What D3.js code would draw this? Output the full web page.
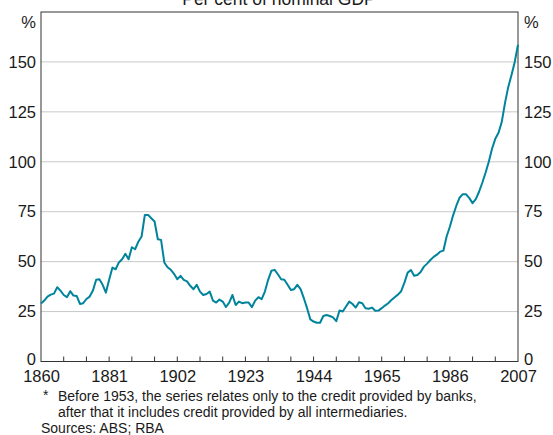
<!DOCTYPE html>
<html>
<head>
<meta charset="utf-8">
<script src="https://cdn.jsdelivr.net/npm/d3@7"></script>
<style>
  html, body { margin: 0; padding: 0; background: #fff; }
  svg { display: block; font-family: "Liberation Sans", Arial, sans-serif; }
</style>
</head>
<body>
<svg id="chart" width="553" height="435"></svg>
<script>
const title = "Per cent of nominal GDP";
const startYear = 1860;
const values = [
  29, 30.5, 32.5, 33.5, 34, 37.2, 35.5, 33.3, 32.2, 35.2,
  33, 32.8, 28.8, 29.2, 31.3, 32.5, 35.5, 40.9, 41.2, 38.4,
  34.5, 40.9, 47, 46.2, 49.6, 51.2, 53.9, 51.2, 57.2, 56.2,
  60, 62.6, 73.4, 73.4, 71.7, 70.1, 61.2, 60.9, 49.6, 47.2,
  45.9, 43.9, 41.2, 42.9, 40.9, 40.1, 37.9, 36.2, 38.4, 35,
  33.3, 33.8, 35, 30.5, 29.5, 31, 30, 27.3, 29.5, 33.3,
  28.3, 30, 29.2, 29.5, 29.5, 27.2, 30.5, 32.2, 31.2, 35,
  40.9, 45.4, 45.9, 43.7, 41.2, 40.9, 38.4, 35.8, 36.2, 38.4,
  36.2, 31.7, 26.7, 21.1, 20, 19.4, 19.4, 22.8, 23.3, 22.8,
  22.1, 20.2, 25.5, 25, 27.5, 30, 28.8, 27, 29.7, 29.2,
  26.7, 26.4, 27, 25.4, 25.5, 26.7, 28, 29.2, 30.8, 32.2,
  33.5, 35.2, 39.5, 44.5, 45.8, 42.9, 43.3, 44.8, 47.5, 49,
  50.8, 52.4, 53.5, 55, 55.5, 62.6, 67.5, 73.2, 78, 82,
  83.8, 83.7, 81.8, 79.3, 81.3, 85, 89.5, 94.5, 100, 106.5,
  111.5, 114.5, 120, 129.5, 137.5, 143.5, 150, 158.6
];
const years = values.map((v, i) => startYear + i);
const xTickLabels = [1860, 1881, 1902, 1923, 1944, 1965, 1986, 2007];
const yTickLabels = [0, 25, 50, 75, 100, 125, 150];
const footnotes = [
  "Before 1953, the series relates only to the credit provided by banks,",
  "after that it includes credit provided by all intermediaries."
];
const sources = "Sources: ABS; RBA";

const svg = d3.select("#chart");
const L = 41, R = 518, T = 12, B = 361.5;
const x = d3.scaleLinear().domain([1860, 2007]).range([L, R]);
const y = d3.scaleLinear().domain([0, 175]).range([B, T]);
const textColor = "#1a1a1a";
const fs = 16.5;
const ff = "Liberation Sans, Arial, sans-serif";

// title (clipped at top)
svg.append("text").attr("x", 279).attr("y", 5).attr("text-anchor", "middle")
  .attr("font-size", 17.5).attr("fill", textColor).text(title);

// gridlines
svg.append("g").selectAll("line").data(yTickLabels.filter(d => d > 0)).join("line")
  .attr("x1", L).attr("x2", R).attr("y1", d => y(d)).attr("y2", d => y(d))
  .attr("stroke", "#c8c8c8").attr("stroke-width", 1);

// left / right axis labels
const yl = d3.axisLeft(y).tickValues(yTickLabels).tickSize(0).tickPadding(5);
const gL = svg.append("g").attr("transform", `translate(${L},0)`).call(yl);
gL.select(".domain").remove();
gL.selectAll("text").attr("font-size", fs).attr("fill", textColor).attr("font-family", ff);
const yr = d3.axisRight(y).tickValues(yTickLabels).tickSize(0).tickPadding(6);
const gR = svg.append("g").attr("transform", `translate(${R},0)`).call(yr);
gR.select(".domain").remove();
gR.selectAll("text").attr("font-size", fs).attr("fill", textColor).attr("font-family", ff);
// nudge the zero labels up slightly so they sit clear of the year labels
gL.selectAll(".tick").filter(d => d === 0).select("text").attr("dy", "0.2em");
gR.selectAll(".tick").filter(d => d === 0).select("text").attr("dy", "0.2em");

// % labels
svg.append("text").attr("x", 36).attr("y", 28).attr("text-anchor", "end")
  .attr("font-size", fs).attr("fill", textColor).text("%");
svg.append("text").attr("x", 524).attr("y", 28).attr("text-anchor", "start")
  .attr("font-size", fs).attr("fill", textColor).text("%");

// x axis: minor ticks every 7 years (inside), labels every 21
const minor = d3.range(1867, 2007, 7);
svg.append("g").selectAll("line").data(minor).join("line")
  .attr("x1", d => x(d)).attr("x2", d => x(d)).attr("y1", B).attr("y2", B - 5)
  .attr("stroke", "#333").attr("stroke-width", 1);
const xa = d3.axisBottom(x).tickValues(xTickLabels).tickFormat(d3.format("d")).tickSize(0).tickPadding(9);
const gX = svg.append("g").attr("transform", `translate(0,${B})`).call(xa);
gX.select(".domain").remove();
gX.selectAll("text").attr("font-size", fs).attr("fill", textColor).attr("font-family", ff);

// frame
svg.append("rect").attr("x", L).attr("y", T).attr("width", R - L).attr("height", B - T)
  .attr("fill", "none").attr("stroke", "#333").attr("stroke-width", 1);

// line
const line = d3.line().x((d, i) => x(years[i])).y(d => y(d));
svg.append("path").datum(values).attr("d", line)
  .attr("fill", "none").attr("stroke", "#00849c").attr("stroke-width", 2)
  .attr("stroke-linejoin", "round");

// footnotes
const fn = 14;
svg.append("text").attr("x", 43).attr("y", 400).attr("font-size", fn).attr("fill", textColor).text("*");
svg.append("text").attr("x", 58).attr("y", 401).attr("font-size", fn).attr("fill", textColor).text(footnotes[0]);
svg.append("text").attr("x", 58).attr("y", 417).attr("font-size", fn).attr("fill", textColor).text(footnotes[1]);
svg.append("text").attr("x", 41).attr("y", 433).attr("font-size", fn).attr("fill", textColor).text(sources);
</script>
</body>
</html>
